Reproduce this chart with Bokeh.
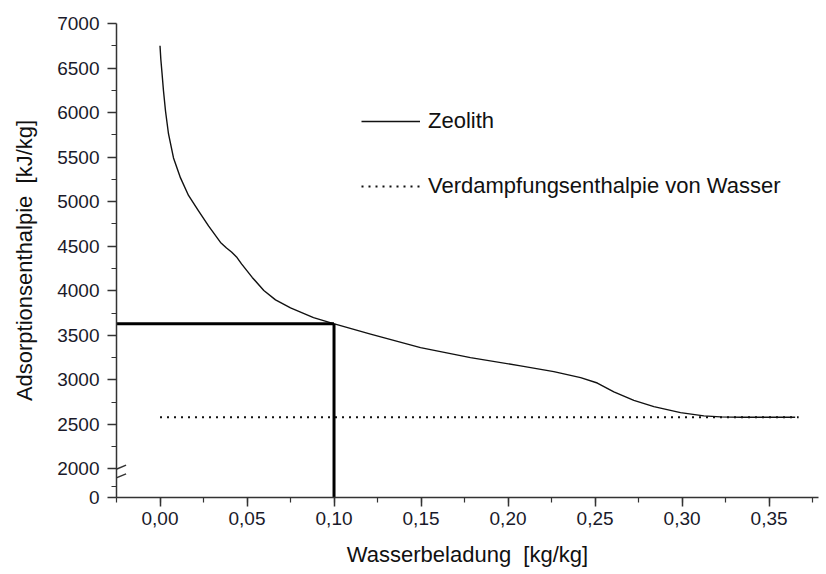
from bokeh.plotting import figure
from bokeh.models import FixedTicker, Range1d, Legend, LegendItem
from bokeh.embed import file_html
from bokeh.resources import INLINE

# ---------------- data ----------------
zeolith_x = [0.0, 0.00046, 0.00115, 0.00201, 0.00316, 0.00489, 0.00776, 0.01178,
             0.01638, 0.02213, 0.02787, 0.03477, 0.03822, 0.04109, 0.04397, 0.04684,
             0.05299, 0.05966, 0.06638, 0.0750, 0.08822, 0.09971, 0.1210, 0.1497,
             0.1784, 0.2072, 0.2263, 0.2417, 0.2513, 0.2608, 0.2723, 0.2838, 0.2991,
             0.3125, 0.3220, 0.3340, 0.3650]
zeolith_y = [6750, 6602, 6445, 6243, 6018, 5760, 5491, 5267,
             5070, 4896, 4728, 4543, 4481, 4436, 4380, 4302,
             4150, 4004, 3898, 3808, 3699, 3632, 3513, 3362,
             3250, 3157, 3093, 3026, 2965, 2866, 2770, 2700, 2633,
             2596, 2585, 2580, 2580]

water_x = [0.0, 0.367]
water_y = [2580, 2580]

marker_x = 0.10          # reading at Wasserbeladung 0.10
marker_y = 3630

x_ticks = [0.0, 0.05, 0.10, 0.15, 0.20, 0.25, 0.30, 0.35]
x_labels = ["0,00", "0,05", "0,10", "0,15", "0,20", "0,25", "0,30", "0,35"]
y_ticks = [0, 2000, 2500, 3000, 3500, 4000, 4500, 5000, 5500, 6000, 6500, 7000]

# broken axis: 0..2000 compressed
BREAK = 2000
COMPRESS = 0.16


def ty(v):
    return v if v >= BREAK else BREAK - (BREAK - v) * COMPRESS


X0, X1 = -0.025, 0.3784
Y0, Y1 = ty(0), 7000

p = figure(width=826, height=574, output_backend="svg", toolbar_location=None,
           x_range=Range1d(X0, X1), y_range=Range1d(Y0, Y1),
           min_border_left=116, min_border_right=8, min_border_top=23,
           min_border_bottom=77)
p.outline_line_color = None
p.grid.visible = False
p.background_fill_color = "white"
p.border_fill_color = "white"

FONT = "Liberation Sans"
AX = "#333333"

# axes
p.xaxis.ticker = FixedTicker(ticks=x_ticks,
                             minor_ticks=[X0 + 0.025 * i for i in range(17)])
p.xaxis.major_label_overrides = {t: l for t, l in zip(x_ticks, x_labels)}
p.yaxis.ticker = FixedTicker(ticks=[ty(v) for v in y_ticks],
                             minor_ticks=[ty(750)] + [2250 + 500 * i for i in range(10)])
p.yaxis.major_label_overrides = {ty(v): str(v) for v in y_ticks}

for ax in (p.xaxis, p.yaxis):
    ax.axis_line_color = AX
    ax.axis_line_width = 1.5
    ax.major_tick_line_color = AX
    ax.minor_tick_line_color = AX
    ax.major_tick_line_width = 1.5
    ax.minor_tick_line_width = 1.2
    ax.major_tick_out = 9
    ax.major_tick_in = 0
    ax.minor_tick_out = 5
    ax.minor_tick_in = 0
    ax.major_label_text_font = FONT
    ax.major_label_text_font_size = "19px"
    ax.major_label_text_color = "#1a1a2a"
    ax.axis_label_text_font = FONT
    ax.axis_label_text_font_size = "22px"
    ax.axis_label_text_font_style = "normal"
    ax.axis_label_text_color = "#111111"

p.xaxis.axis_label = "Wasserbeladung\u00a0 [kg/kg]"
p.yaxis.axis_label = "Adsorptionsenthalpie\u00a0 [kJ/kg]"
p.xaxis.major_label_standoff = 5
p.yaxis.major_label_standoff = 8
p.xaxis.axis_label_standoff = 14
p.yaxis.axis_label_standoff = 17

# curves
r_zeo = p.line(zeolith_x, zeolith_y, line_color="#111111", line_width=1.4,
               line_join="round")
r_wat = p.line(water_x, water_y, line_color="#111111", line_width=2,
               line_dash="2 5")

# reading lines
p.line([X0, marker_x], [marker_y, marker_y], line_color="black", line_width=3)
p.line([marker_x, marker_x], [marker_y, ty(0)], line_color="black", line_width=3)

# axis break marks
bx = 0.0055
for yc in (ty(1990), ty(1380)):
    p.segment(x0=[X0 - bx], y0=[yc - 45], x1=[X0 + bx], y1=[yc + 45],
              line_color=AX, line_width=1.5)

legend = Legend(items=[LegendItem(label="Zeolith", renderers=[r_zeo]),
                       LegendItem(label="Verdampfungsenthalpie von Wasser",
                                  renderers=[r_wat])],
                location=(245, 298), orientation="vertical",
                glyph_width=59, glyph_height=20, label_height=20,
                spacing=39, padding=0, margin=0, label_standoff=8,
                label_text_font=FONT, label_text_font_size="22px",
                label_text_color="#111111",
                border_line_alpha=0, background_fill_alpha=0)
p.add_layout(legend)

open("out.html", "w").write(file_html(p, INLINE))
